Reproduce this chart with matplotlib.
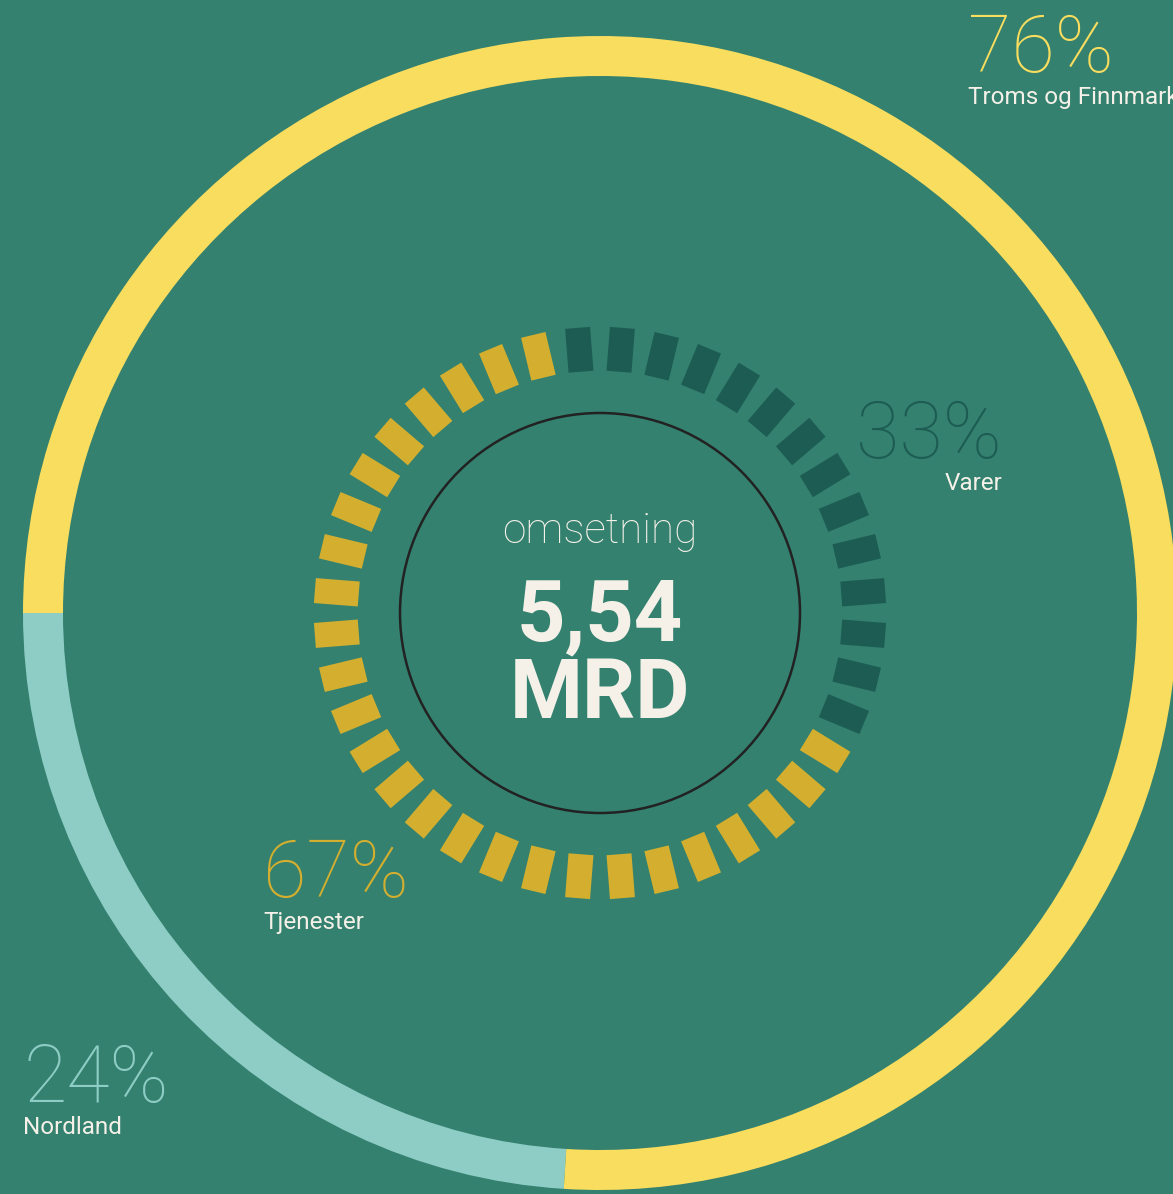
import numpy as np
import matplotlib
matplotlib.use("Agg")
import matplotlib.pyplot as plt
from matplotlib.patches import Circle

# outer ring: regional split
regions = ["Troms og Finnmark", "Nordland"]
region_pct = [76, 24]
# inner ring: goods vs services
kinds = ["Varer", "Tjenester"]
kind_pct = [33, 67]
total_label = "5,54"
unit_label = "MRD"
caption = "omsetning"

BG = "#34816f"
YELLOW = "#f9dd5e"
LIGHT_TEAL = "#8ecdc5"
DARK = "#1d5c53"
MUSTARD = "#d4af2f"
CREAM = "#f5f1e8"

W, H = 1173, 1194
cx, cy = 600, H - 613
n_ticks = 40

fig = plt.figure(figsize=(W / 100, H / 100), dpi=100, facecolor=BG)
ax = fig.add_axes([0, 0, 1, 1])
ax.set_facecolor(BG)

# outer ring (Nordland starts at 9 o'clock, counterclockwise)
ax.pie(region_pct[::-1], colors=[LIGHT_TEAL, YELLOW], startangle=180, counterclock=True,
       radius=577, center=(cx, cy), frame=True,
       wedgeprops=dict(width=40, linewidth=0))

# segmented inner ring
n_dark = int(np.ceil(kind_pct[0] / 100 * n_ticks))
clock = -4.5 + 360 / n_ticks * np.arange(n_ticks)
theta = np.deg2rad(90 - clock)
r1, r2 = 242, 286
for i, t in enumerate(theta):
    c = DARK if i < n_dark else MUSTARD
    ax.plot([cx + r1 * np.cos(t), cx + r2 * np.cos(t)],
            [cy + r1 * np.sin(t), cy + r2 * np.sin(t)],
            color=c, lw=18, solid_capstyle="butt")

ax.add_patch(Circle((cx, cy), 200, fill=False, ec="#222222", lw=1.8))

ax.set_xlim(0, W)
ax.set_ylim(0, H)
ax.set_aspect("equal")
ax.axis("off")

FONT = ["Roboto", "DejaVu Sans"]
ax.text(cx, H - 532, caption, ha="center", va="center", fontsize=30.5, color=CREAM,
        family=FONT, weight="light")
ax.text(cx, H - 617, total_label, ha="center", va="center", fontsize=61, color=CREAM,
        family=FONT, weight="bold")
ax.text(cx, H - 695, unit_label, ha="center", va="center", fontsize=60, color=CREAM,
        family=FONT, weight="bold")

# labels
def pct_label(x, y, pct, name, col, ha="left"):
    ax.text(x, H - y, f"{pct}%", ha=ha, va="baseline", fontsize=57, color=col,
            family=FONT, weight="light")
    ax.text(x, H - y - 32, name, ha=ha, va="baseline", fontsize=17.5, color=CREAM,
            family=FONT)

pct_label(968, 72, region_pct[0], regions[0], YELLOW)
pct_label(1002, 458, kind_pct[0], kinds[0], DARK, ha="right")
pct_label(263, 897, kind_pct[1], kinds[1], MUSTARD)
pct_label(23, 1102, region_pct[1], regions[1], LIGHT_TEAL)

fig.savefig("out.png", dpi=100, facecolor=BG)
